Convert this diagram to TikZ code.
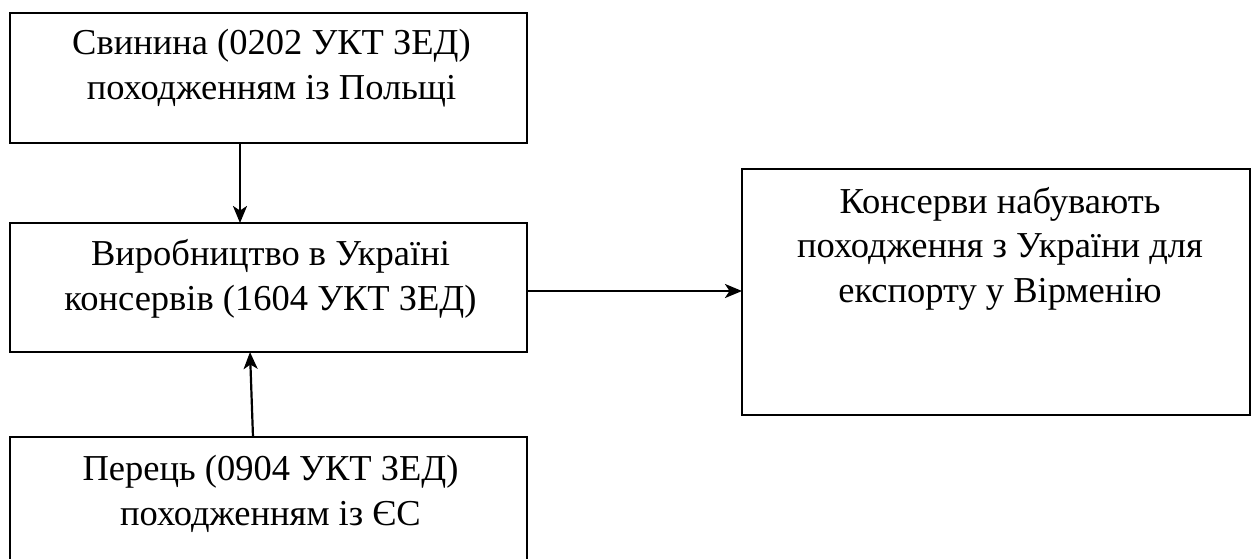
\documentclass[tikz,border=0pt]{standalone}
\usepackage{fontspec}
\setmainfont{Liberation Serif}
\usetikzlibrary{arrows.meta}
\begin{document}
\begin{tikzpicture}[x=1pt,y=-1pt,
  box/.style={draw, line width=2.8pt, inner sep=0pt, outer sep=0pt},
  txt/.style={anchor=base, inner sep=0pt, align=center,
              font=\fontsize{36.5}{44.5}\selectfont},
  arr/.style={line width=2.2pt, -{Stealth[length=17pt,width=14pt,inset=4.5pt]}}]
\useasboundingbox (0,0) rectangle (1252,558);

% boxes
\node[box, minimum width=517pt, minimum height=130pt] (b1) at (268.5,78) {};
\node[box, minimum width=517pt, minimum height=129pt] (b2) at (268.5,287.5) {};
\node[box, minimum width=517pt, minimum height=125pt] (b3) at (268.5,499.5) {};
\node[box, minimum width=508pt, minimum height=246pt] (b4) at (996,292) {};

% box texts (the base anchor sits on the last line)
\node[txt] (t1) at ([xshift=3pt,yshift=-86pt]b1.north)
  {Свинина (0202 УКТ ЗЕД)\\походженням із Польщі};
\node[txt] (t2) at ([xshift=2pt,yshift=-87pt]b2.north)
  {Виробництво в Україні\\консервів (1604 УКТ ЗЕД)};
\node[txt] (t3) at ([xshift=2pt,yshift=-88pt]b3.north)
  {Перець (0904 УКТ ЗЕД)\\походженням із ЄС};
\node[txt] (t4) at ([xshift=4pt,yshift=-133pt]b4.north)
  {Консерви набувають\\походження з України для\\експорту у Вірменію};

% connectors
\draw[arr] ([xshift=-28.5pt]b1.south) -- ([xshift=-28.5pt]b2.north);
\draw[arr] ([xshift=-15.5pt]b3.north) -- ([xshift=-18.5pt]b2.south);
\draw[arr] ([yshift=-3.5pt]b2.east) -- ([yshift=-3.5pt]b2.east -| b4.west);
\end{tikzpicture}
\end{document}
